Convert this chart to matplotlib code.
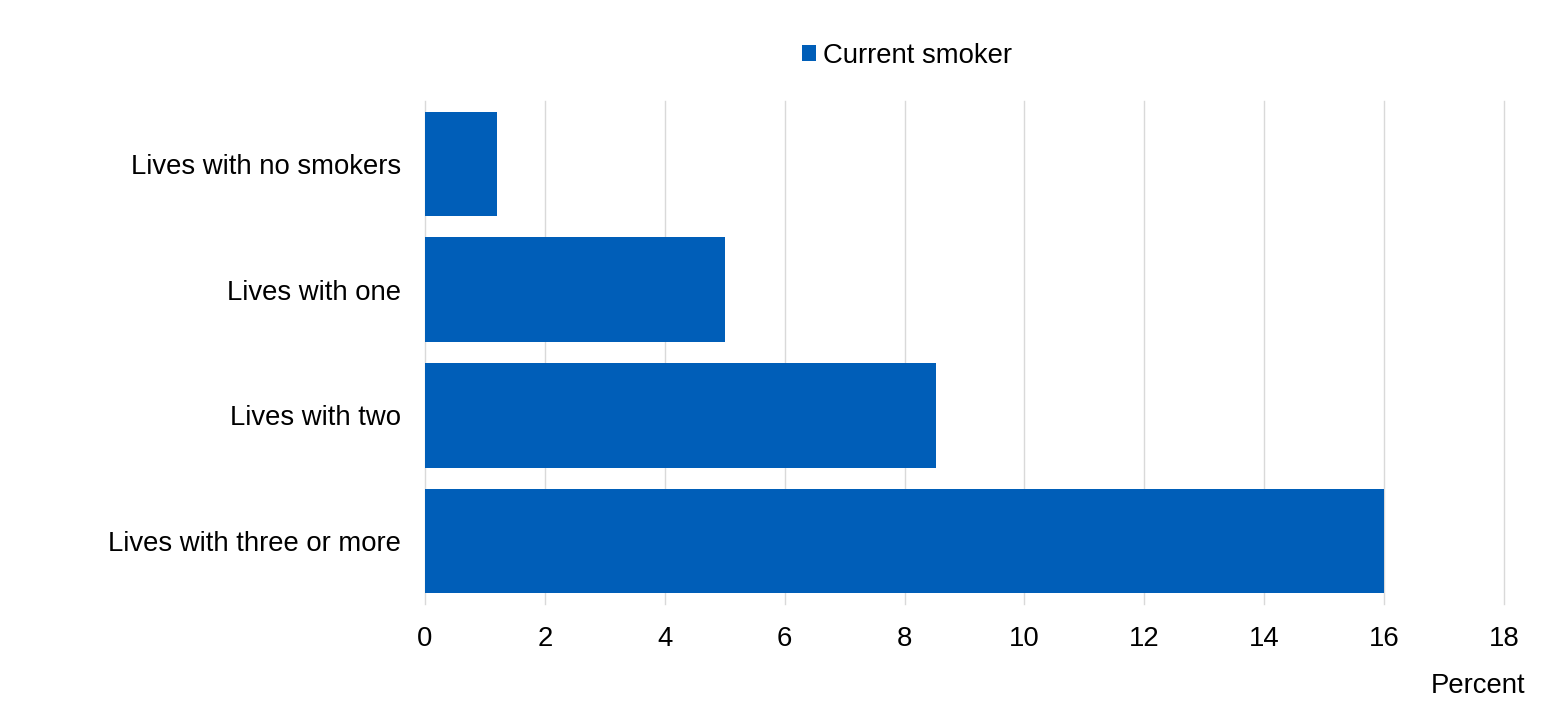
import matplotlib.pyplot as plt
from matplotlib.patches import Patch

plt.rcParams['font.family'] = ['Liberation Sans', 'DejaVu Sans']

# Data
categories = ["Lives with no smokers", "Lives with one", "Lives with two", "Lives with three or more"]
values = [1.2, 5.0, 8.53, 16.0]
series_name = "Current smoker"
xticks = [0, 2, 4, 6, 8, 10, 12, 14, 16, 18]

BAR_COLOR = "#005EB8"
GRID_COLOR = "#D9D9D9"
FS = 19.8

fig = plt.figure(figsize=(15.59, 7.15), dpi=100)
ax = fig.add_axes([0.2726, 0.1552, 0.6921, 0.7035])

y = list(range(len(categories)))
ax.barh(y, values, height=0.83, color=BAR_COLOR, zorder=3)
ax.set_ylim(len(categories) - 0.5, -0.5)
ax.set_yticks(y)
ax.set_yticklabels(categories, fontsize=FS)

ax.set_xlim(0, 18)
ax.set_xticks(xticks)
ax.set_xticklabels([str(t) for t in xticks], fontsize=FS)
ax.grid(axis="x", color=GRID_COLOR, linewidth=1, zorder=0)
for gl in ax.get_xgridlines():
    gl.set_clip_on(False)
ax.tick_params(axis="both", length=0)
ax.tick_params(axis="x", pad=16)
ax.tick_params(axis="y", pad=17)

for s in ax.spines.values():
    s.set_visible(False)

fig.text(1525 / 1559, 1 - 686 / 715, "Percent", fontsize=FS, ha="right", va="center")

handles = [Patch(facecolor=BAR_COLOR, label=series_name)]
fig.legend(handles=handles, loc="center", bbox_to_anchor=(907 / 1559, 1 - 56 / 715),
           frameon=False, fontsize=FS, handlelength=0.5, handleheight=0.5,
           handletextpad=0.25)

fig.savefig("out.png", dpi=100)
